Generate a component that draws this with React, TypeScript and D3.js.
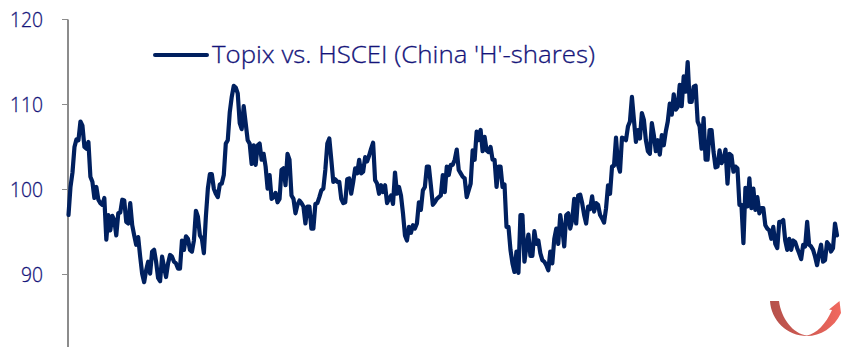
import React from "react";
import * as d3 from "d3";

// Relative index level, one reading per period
const ratioA = [97,100.3,102,105,105.9,105.8,108,107.5,105,104.8,105.6,101.5,100.9,99,100.3,98.8,98.4,98.2,99,94.1,97,95.2,96.9,96.4,94.6,97.2,97.3,98.8,98.7,96.2,96,98.4,95.8,94.6,93.5,94.4,92.1,90.1,89.1,90.5,91.5,90.1,92.7,92.9,91.5,89.6,89.2,92.1,90.9,89.7,91.3,92.3,92.1,91.5,91.3,90.7,90.7,94,92.9,94.5,94.2,92.9];
const ratioB = [92.7,94,97.5,96.8,94.6,94.2,92.5,96.8,100.1,101.8,101.8,100.1,99.5,99.1,100.6,100.7,101.7,105.4,105.8,109.1,110.9,112.2,112,111.3,107.8,107.1,109.8,107.8,105.8,105.4,103,105.2,102.9,105.2,105.4,103.5,104.2,102.7,100.1,101.7,98.9,99.1,99.6,98.5,98.9,102.3,102.5,100.5,104.2,103.5,99.3,98.9,97.2,98.2,98.7,98.4,98,96,98,98,95.4,95.4,98.3,98.4,99.1,99.9];
const ratioC = [100.1,102.3,105.4,106,103.5,100.9,101.2,100.9,100.9,98.9,98.4,98.5,101.2,101.3,99.5,100.9,102.5,101.9,103.5,101.9,102.1,103.8,103.3,104,104.8,105.5,101.1,100.7,99.5,100.5,99.7,100.5,98.4,98.9,99.3,98.3,102,99.5,100.3,99.3,97.2,94.6,94,95.6,94.9,95.8,95.4,96,98.5,97.6,99.9,100.3,102.7,102.7,100.5,98.2,98.5,98.9,99.1,99.3,101.7,99.7,102.7,101.7,102.9];
const ratioD = [102.9,103.5,104.7,102.3,101.9,101.5,101.3,99.1,99.9,100.7,104.6,103.5,106.8,105.8,107,104.5,106.2,104.6,104.4,105,103.5,103.5,100.3,102.7,102.7,100.3,100.6,95.6,95.6,92.9,91.3,90.3,92.7,90.2,97,97,91.5,93.3,94.7,92.2,92.2,95.1,93.6,94,92.5,91.7,91.5,91.1,90.5,92.7,91.3,94.2,95.4,93.6,97,95.4,93.3,97,97.2,95.4,96.4,98.9,96,99.3];
const ratioE = [99.4,98.4,97,96,98,97.7,99.2,97.4,98.4,98.2,97,96.6,96.1,97.8,100.5,99.5,102.7,102.8,106.1,102.9,102.1,106.1,106,105.8,107.4,108,110.9,108.2,105.6,107,106,109,108.2,105.8,104.5,104.2,107.8,106.4,104.5,105.8,104.1,106.4,105.2,106.8,108,110.1,108.8,111.2,109.4,109.7,112.3,109.8,113.3,111.5,115,110.3,110.3,112.1,112.2,108,107.4,104.8,108.4,103.5,103.5];
const ratioF = [107,107,104.4,102.6,102.7,104.6,103.1,103.5,104.7,100.7,104.2,104,102.1,102.7,102.5,98.2,98.2,93.7,100.2,98,101.3,97.8,100.1,97.6,99.1,97.2,97.8,97.8,95.8,95.4,95.2,94.2,95.6,93.6,93.1,96.2,96.2,96.4,94,92.9,94.2,92.9,94,93.8,93.1,92.5,91.8,93.5,93.3,96.2,93.5,93.3,92.9,92.1,91.1,92.5,93.5,91.5,91.7,93.8,93.5,92.7,93.1,96,94.6];

const series = [...ratioA, ...ratioB, ...ratioC, ...ratioD, ...ratioE, ...ratioF];
const yTicks = [90, 100, 110, 120];
const legendLabel = "Topix vs. HSCEI (China 'H'-shares)";

const WIDTH = 841;
const HEIGHT = 347;
const NAVY = "#00205f";
const LABEL = "#14147a";
const AXIS = "#8c8c8c";
const FONT = "'Open Sans', 'Noto Sans', sans-serif";

export default function App() {
  const x = d3.scaleLinear().domain([0, series.length - 1]).range([68.5, 837]);
  const y = d3.scaleLinear().domain([90, 120]).range([274.5, 19.5]);
  const path = d3.line<number>().x((_, i) => x(i)).y((d) => y(d))(series) ?? "";

  return (
    <svg
      width={WIDTH}
      height={HEIGHT}
      viewBox={`0 0 ${WIDTH} ${HEIGHT}`}
      style={{ position: "absolute", left: 0, top: 0, background: "#fff" }}
    >
      <defs>
        <linearGradient id="turn" x1="0" x2="1" y1="0" y2="0">
          <stop offset="0" stopColor="#b5514b" />
          <stop offset="0.5" stopColor="#cf5a52" />
          <stop offset="1" stopColor="#f2695f" />
        </linearGradient>
      </defs>

      <line x1={68} x2={68} y1={19.5} y2={HEIGHT} stroke={AXIS} strokeWidth={2} />
      {yTicks.map((t) => (
        <g key={t}>
          <line x1={62} x2={68} y1={y(t)} y2={y(t)} stroke={AXIS} strokeWidth={1} />
          <text
            x={43}
            y={y(t) + 7}
            textAnchor="end"
            fontFamily={FONT}
            fontSize={20}
            fontWeight={300}
            fill={LABEL}
            stroke={LABEL}
            strokeWidth={0.3}
            textLength={t === 90 ? 22 : 33}
            lengthAdjust="spacingAndGlyphs"
          >
            {t}
          </text>
        </g>
      ))}

      <path d={path} fill="none" stroke={NAVY} strokeWidth={4.2} strokeLinejoin="round" strokeLinecap="round" />

      <line x1={155} x2={207} y1={55} y2={55} stroke={NAVY} strokeWidth={4} strokeLinecap="round" />
      <text
        x={212}
        y={62.5}
        fontFamily={FONT}
        fontSize={24.5}
        fontWeight={300}
        fill={LABEL}
        stroke={LABEL}
        strokeWidth={0.3}
        textLength={383}
        lengthAdjust="spacingAndGlyphs"
      >
        {legendLabel}
      </text>

      {/* Curved turning arrow in the lower right corner */}
      <path
        d="M770 301 L779 301 C781 318 793 334 807 335.5 C816 334 826 324 832 310 L829 309.5 L839.5 301 L841 313 C834 328 820 336 807 336 C787 336 771 320 770 301 Z"
        fill="url(#turn)"
      />
    </svg>
  );
}
